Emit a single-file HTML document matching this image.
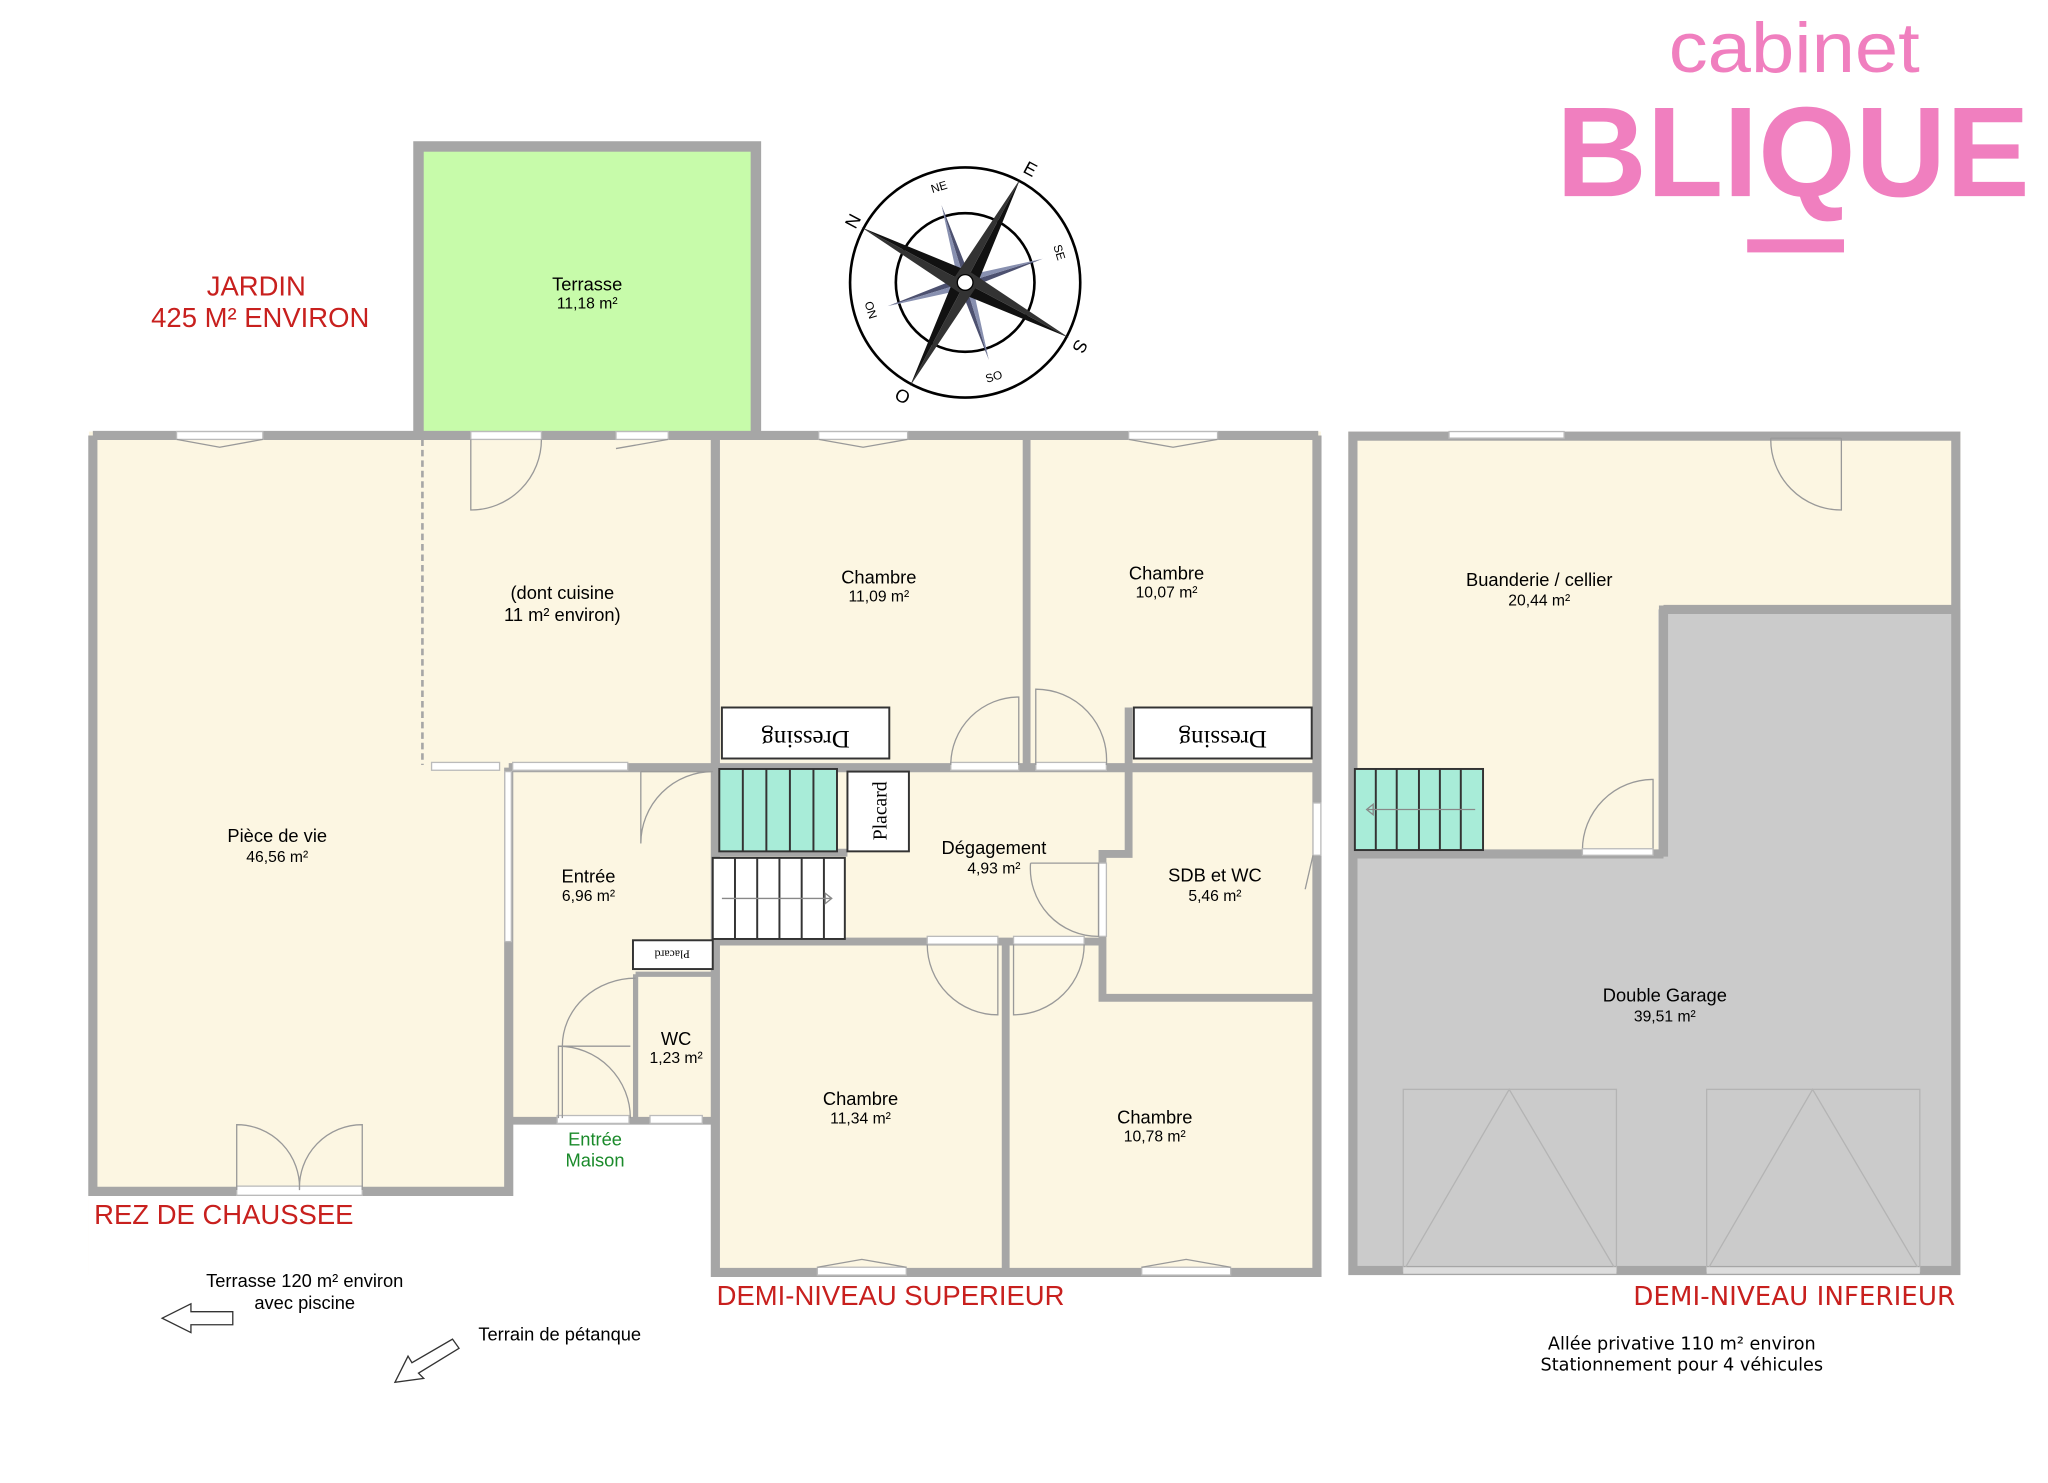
<!DOCTYPE html>
<html><head><meta charset="utf-8"><style>html,body{margin:0;padding:0;background:#fff}svg{display:block}text{font-family:"Liberation Sans",sans-serif}.dj{font-family:"DejaVu Sans",sans-serif}</style></head><body>
<svg width="2048" height="1483" viewBox="0 0 1566 1134" preserveAspectRatio="none" xmlns="http://www.w3.org/2000/svg">
<!-- Logo -->
<text x="1372" y="55" font-size="54" fill="#f07fbf" text-anchor="middle" textLength="192" lengthAdjust="spacingAndGlyphs">cabinet</text>
<text x="1371" y="150" font-size="98" font-weight="bold" fill="#f07fbf" text-anchor="middle" textLength="362" lengthAdjust="spacingAndGlyphs">BLIQUE</text>
<rect x="1336" y="183" width="74" height="10" fill="#f07fbf"/>

<!-- Terrasse -->
<rect x="320" y="112" width="258" height="222" fill="#c7fbaa" stroke="#a6a6a6" stroke-width="8"/>
<text x="449" y="222" font-size="14" text-anchor="middle">Terrasse</text>
<text x="449" y="236" font-size="12" text-anchor="middle">11,18 m²</text>

<text x="196" y="226" font-size="21" fill="#c8201e" text-anchor="middle">JARDIN</text>
<text x="199" y="250" font-size="21" fill="#c8201e" text-anchor="middle">425 M² ENVIRON</text>

<!-- Compass -->
<g transform="translate(738,216)">
<circle r="88" fill="none" stroke="#000" stroke-width="2"/>
<circle r="53" fill="none" stroke="#000" stroke-width="2"/>
<g transform="rotate(-62)">
<g fill="#4d5170"><path d="M0,-62 L5,0 L0,0Z M0,62 L-5,0 L0,0Z M62,0 L0,5 L0,0Z M-62,0 L0,-5 L0,0Z" transform="rotate(45)"/><path d="M0,-62 L-5,0 L0,0Z M0,62 L5,0 L0,0Z M62,0 L0,-5 L0,0Z M-62,0 L0,5 L0,0Z" fill="#8890b0" transform="rotate(45)"/></g>
<path d="M0,-90 L9,0 L0,0Z M0,90 L-9,0 L0,0Z M90,0 L0,9 L0,0Z M-90,0 L0,-9 L0,0Z" fill="#111"/>
<path d="M0,-90 L-9,0 L0,0Z M0,90 L9,0 L0,0Z M90,0 L0,-9 L0,0Z M-90,0 L0,9 L0,0Z" fill="#333"/>
</g>
<circle r="6" fill="#fff" stroke="#000" stroke-width="1"/>
<text x="-86" y="-42" font-size="14" transform="rotate(-62,-86,-47)" text-anchor="middle">N</text>
<text x="50" y="-82" font-size="14" transform="rotate(28,50,-87)" text-anchor="middle">E</text>
<text x="88" y="54" font-size="14" transform="rotate(118,88,49)" text-anchor="middle">S</text>
<text x="-48" y="92" font-size="14" transform="rotate(208,-48,87)" text-anchor="middle">O</text>
<text x="-20" y="-70" font-size="9" transform="rotate(-17,-20,-73)" text-anchor="middle">NE</text>
<text x="72" y="-20" font-size="9" transform="rotate(73,72,-23)" text-anchor="middle">SE</text>
<text x="22" y="75" font-size="9" transform="rotate(-17,22,72)" text-anchor="middle">SO</text>
<text x="-72" y="24" font-size="9" transform="rotate(-107,-72,21)" text-anchor="middle">NO</text>
</g>

<!-- Floors -->
<rect x="68" y="330" width="942" height="645" fill="#fcf6e2"/>
<rect x="388" y="858" width="160" height="120" fill="#fff"/>
<rect x="68" y="913" width="322" height="65" fill="#fff"/>

<!-- Walls main house -->
<g stroke="#a6a6a6" fill="none">
<path d="M71,333 L1008,333 M71,333 L71,911 L389,911 L389,587 M389,587 L1008,587 M1007,333 L1007,973 L547,973 L547,333" stroke-width="7"/>
<path d="M389,857 L547,857 M785,333 L785,587 M769,720 L769,973 M547,720 L843,720 M843,650 L843,763 L1007,763 M843,653 L863,653 L863,541 M648,652 L545,652" stroke-width="6"/>
<path d="M486,745 L547,745 M486,745 L486,857" stroke-width="4"/>
<path d="M323,336 L323,585" stroke-width="2" stroke-dasharray="5,3"/>
</g>
<!-- windows -->
<g fill="#fff" stroke="#bbb" stroke-width="1">
<rect x="135" y="330" width="66" height="6"/>
<rect x="360" y="330" width="54" height="6"/>
<rect x="471" y="330" width="40" height="6"/>
<rect x="626" y="330" width="68" height="6"/>
<rect x="863" y="330" width="68" height="6"/>
<rect x="330" y="583" width="52" height="6"/>
<rect x="392" y="583" width="88" height="6"/>
<rect x="386" y="590" width="5" height="130"/>
<rect x="181" y="907" width="96" height="7"/>
<rect x="426" y="853" width="55" height="6"/>
<rect x="497" y="853" width="40" height="6"/>
<rect x="625" y="969" width="68" height="6"/>
<rect x="873" y="969" width="68" height="6"/>
<rect x="1004" y="614" width="6" height="40"/>
<rect x="727" y="583" width="52" height="6"/>
<rect x="792" y="583" width="54" height="6"/>
<rect x="709" y="716" width="54" height="6"/>
<rect x="775" y="716" width="54" height="6"/>
<rect x="840" y="660" width="6" height="56"/>
</g>
<!-- door arcs -->
<g fill="none" stroke="#999" stroke-width="1">
<path d="M360,336 L360,390 A54,54 0 0 0 414,336"/>
<path d="M490,590 L490,645 A55,55 0 0 1 545,590 M490,590 L545,590"/>
<path d="M727,585 A52,52 0 0 1 779,533 L779,585"/>
<path d="M792,585 L792,527 A54,54 0 0 1 846,585"/>
<path d="M709,722 A54,54 0 0 0 763,776 L763,722"/>
<path d="M775,722 L775,776 A54,54 0 0 0 829,722"/>
<path d="M788,660 L840,660 L840,716 A52,52 0 0 1 788,660"/>
<path d="M427,855 L427,800 A55,55 0 0 1 482,855 M427,800 L482,800"/>
<path d="M430,855 L430,800 A56,52 0 0 1 486,748"/>
<path d="M181,910 L181,860 A48,48 0 0 1 229,910 M277,910 L277,860 A48,48 0 0 0 229,910"/>
<path d="M135,336 L168,342 L201,336 M626,336 L660,342 L694,336 M863,336 L897,342 L931,336 M471,343 L511,336 M625,969 L659,963 L693,969 M873,969 L907,963 L941,969 M1004,654 L998,680"/>
</g>
<!-- dressing, placards, stairs -->
<g stroke="#333" stroke-width="1.5">
<rect x="552" y="541" width="128" height="39" fill="#fff"/>
<rect x="867" y="541" width="136" height="39" fill="#fff"/>
<rect x="648" y="590" width="47" height="61" fill="#fff"/>
<rect x="484" y="719" width="61" height="22" fill="#fff"/>
<rect x="550" y="588" width="90" height="63" fill="#a8ecd8"/>
<path d="M568,588 V651 M586,588 V651 M604,588 V651 M622,588 V651"/>
<rect x="545" y="656" width="101" height="62" fill="#fff"/>
<path d="M562,656 V718 M579,656 V718 M596,656 V718 M613,656 V718 M630,656 V718"/>
</g>
<path d="M552,687 L636,687 M631,683 L636,687 L631,691Z" stroke="#888" fill="none"/>
<text transform="translate(616,553) rotate(180)" font-size="19" text-anchor="middle" style="font-family:'Liberation Serif',serif" y="-6">Dressing</text>
<text transform="translate(935,553) rotate(180)" font-size="19" text-anchor="middle" style="font-family:'Liberation Serif',serif" y="-6">Dressing</text>
<text transform="translate(678,620) rotate(-90)" font-size="15" text-anchor="middle" style="font-family:'Liberation Serif',serif">Placard</text>
<text transform="translate(514,726) rotate(180)" font-size="9" text-anchor="middle" style="font-family:'Liberation Serif',serif" y="-1">Placard</text>

<!-- Room labels -->
<g font-size="14" text-anchor="middle">
<text x="430" y="458">(dont cuisine</text><text x="430" y="475">11 m² environ)</text>
<text x="672" y="446">Chambre</text><text x="672" y="460" font-size="12">11,09 m²</text>
<text x="892" y="443">Chambre</text><text x="892" y="457" font-size="12">10,07 m²</text>
<text x="212" y="644">Pièce de vie</text><text x="212" y="659" font-size="12">46,56 m²</text>
<text x="450" y="675">Entrée</text><text x="450" y="689" font-size="12">6,96 m²</text>
<text x="760" y="653">Dégagement</text><text x="760" y="668" font-size="12">4,93 m²</text>
<text x="929" y="674">SDB et WC</text><text x="929" y="689" font-size="12">5,46 m²</text>
<text x="517" y="799">WC</text><text x="517" y="813" font-size="12">1,23 m²</text>
<text x="658" y="845">Chambre</text><text x="658" y="859" font-size="12">11,34 m²</text>
<text x="883" y="859">Chambre</text><text x="883" y="873" font-size="12">10,78 m²</text>
<text x="455" y="876" fill="#1a8a2a">Entrée</text><text x="455" y="892" fill="#1a8a2a">Maison</text>
</g>
<text x="72" y="936" font-size="21" fill="#c8201e">REZ DE CHAUSSEE</text>
<text x="548" y="998" font-size="21" fill="#c8201e">DEMI-NIVEAU SUPERIEUR</text>
<text x="1495" y="998" font-size="20" fill="#c8201e" text-anchor="end" class="dj">DEMI-NIVEAU INFERIEUR</text>
<g font-size="14" text-anchor="middle">
<text x="233" y="984">Terrasse 120 m² environ</text><text x="233" y="1001">avec piscine</text>
<text x="428" y="1025">Terrain de pétanque</text>
<text x="1286" y="1032" class="dj" font-size="13.5">Allée privative 110 m² environ</text><text x="1286" y="1048" class="dj" font-size="13.5">Stationnement pour 4 véhicules</text>
</g>
<path d="M124,1008 L146,997 L146,1003 L178,1003 L178,1013 L146,1013 L146,1019Z" fill="#fff" stroke="#333" stroke-width="1"/>
<path d="M302,1057 L312,1037 L315,1042 L346,1024 L351,1031 L320,1050 L324,1054Z" fill="#fff" stroke="#333" stroke-width="1"/>

<!-- Lower level -->
<rect x="1031" y="330" width="468" height="645" fill="#cbcbcb"/>
<path d="M1031,330 H1499 V466 H1268 V652 H1031Z" fill="#fcf6e2"/>
<g stroke="#a6a6a6" fill="none">
<rect x="1034.5" y="333.5" width="461" height="638" stroke-width="7"/>
<path d="M1272,466 H1496 M1272,463 V655 M1034,653 H1272" stroke-width="7"/>
</g>
<rect x="1108" y="330" width="88" height="5" fill="#fff" stroke="#bbb"/>
<path d="M1354,335 A54,54 0 0 0 1408,390 L1408,335 M1354,335 L1408,335" fill="none" stroke="#999"/>
<path d="M1210,650 A54,54 0 0 1 1264,596 L1264,650" fill="none" stroke="#999"/>
<rect x="1210" y="649" width="54" height="5" fill="#fff" stroke="#bbb"/>
<rect x="1036" y="588" width="98" height="62" fill="#a8ecd8" stroke="#333" stroke-width="1.5"/>
<path d="M1052,588 V650 M1068,588 V650 M1085,588 V650 M1101,588 V650 M1117,588 V650" stroke="#333" stroke-width="1.5"/>
<path d="M1128,619 H1046 M1050,615 L1045,619 L1050,623Z" stroke="#888" fill="none"/>
<g fill="none" stroke="#b4b4b4" stroke-width="1">
<rect x="1073" y="833" width="163" height="139"/><path d="M1073,972 L1154,833 L1236,972"/>
<rect x="1305" y="833" width="163" height="139"/><path d="M1305,972 L1386,833 L1468,972"/>
</g>
<rect x="1073" y="969" width="163" height="5" fill="#ddd"/>
<rect x="1305" y="969" width="163" height="5" fill="#ddd"/>
<g font-size="14" text-anchor="middle" class="dj">
<text x="1177" y="448">Buanderie / cellier</text><text x="1177" y="463" font-size="12">20,44 m²</text>
<text x="1273" y="766">Double Garage</text><text x="1273" y="781" font-size="12">39,51 m²</text>
</g>
</svg>
</body></html>
